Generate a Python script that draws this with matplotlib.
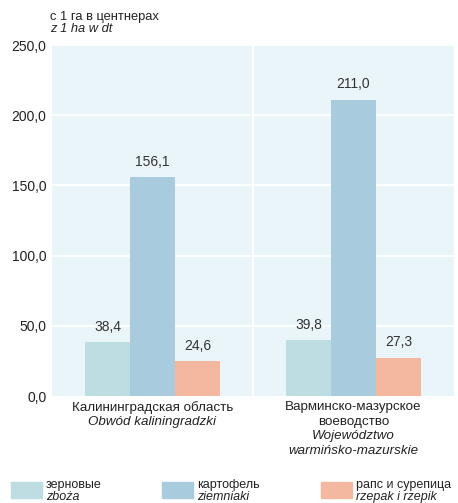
import numpy as np
import matplotlib.pyplot as plt
from matplotlib.patches import Rectangle

plt.rcParams['font.family'] = ['Liberation Sans Narrow', 'Liberation Sans', 'DejaVu Sans']

# data
regions_ru = [['Калининградская область'], ['Варминско-мазурское', 'воеводство']]
regions_pl = [['Obwód kaliningradzki'], ['Województwo', 'warmińsko-mazurskie']]
crops_ru = ['зерновые', 'картофель', 'рапс и сурепица']
crops_pl = ['zboża', 'ziemniaki', 'rzepak i rzepik']
values = [
    [38.4, 39.8],    # zboża
    [156.1, 211.0],  # ziemniaki
    [24.6, 27.3],    # rzepak
]
colors = ['#bddde2', '#a9cbde', '#f3b89f']
yticks = [0, 50, 100, 150, 200, 250]

txt = '#222222'
fs = 9.6

fig = plt.figure(figsize=(4.58, 5.03), dpi=100)
ax = fig.add_axes([0.1135, 0.2127, 0.8775, 0.6978])
ax.set_facecolor('#eaf5fa')

x = np.arange(len(regions_ru))
w = 0.224
for i, vals in enumerate(values):
    pos = x + (i - 1) * w
    bars = ax.bar(pos, vals, width=w, color=colors[i], zorder=3)
    for b, v in zip(bars, vals):
        ax.annotate(f'{v:.1f}'.replace('.', ','), (b.get_x() + w / 2, v),
                    xytext=(0, 6), textcoords='offset points',
                    ha='center', va='bottom', fontsize=fs + 0.4, color='#333333')

ax.set_xlim(-0.5, 1.5)
ax.set_ylim(0, 250)
ax.set_yticks(yticks)
ax.set_yticklabels([f'{t:.1f}'.replace('.', ',') for t in yticks], fontsize=fs + 0.4, color=txt)
ax.tick_params(axis='y', length=0, pad=4)
ax.set_xticks([])
for s in ax.spines.values():
    s.set_visible(False)
for t in yticks[1:]:
    ax.axhline(t, color='white', lw=1.3, zorder=1)
ax.axvline(0.5, color='white', lw=1.6, zorder=1)

# category labels, one line at a time (14.5 px apart)
step = 14.5 * 72 / 100
for xi, ru, pl in zip(x, regions_ru, regions_pl):
    lines = [(s, 'normal') for s in ru] + [(s, 'italic') for s in pl]
    for k, (s, st) in enumerate(lines):
        ax.annotate(s, (xi, 0), xytext=(0, -8 - k * step), textcoords='offset points',
                    ha='center', va='center', fontsize=fs, color=txt, style=st)

# unit title
fig.text(50 / 458, 1 - 17 / 503, 'с 1 га в центнерах', fontsize=fs - 0.3, va='center', color=txt)
fig.text(50 / 458, 1 - 29 / 503, 'z 1 ha w dt', fontsize=fs - 0.3, va='center', style='italic', color=txt)

# legend
leg_x = [11, 162, 321]
for lx, c, ru, pl in zip(leg_x, colors, crops_ru, crops_pl):
    fig.patches.append(Rectangle((lx / 458, 1 - 498 / 503), 31 / 458, 16 / 503,
                                 transform=fig.transFigure, color=c))
    fig.text((lx + 35) / 458, 1 - 485 / 503, ru, fontsize=fs - 0.6, va='center', color=txt)
    fig.text((lx + 35) / 458, 1 - 497 / 503, pl, fontsize=fs - 0.6, va='center', style='italic', color=txt)

fig.savefig('out.png', dpi=100)
